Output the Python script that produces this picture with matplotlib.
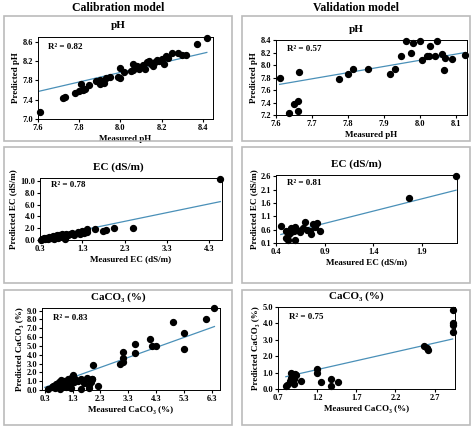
import numpy as np
import matplotlib
matplotlib.use("Agg")
import matplotlib.pyplot as plt
from matplotlib.patches import Rectangle

plt.rcParams['font.family'] = ['Liberation Serif', 'DejaVu Serif']
plt.rcParams['font.weight'] = 'bold'

ph_cal_x = [7.61,7.72,7.73,7.78,7.8,7.81,7.82,7.83,7.85,7.88,7.9,7.9,7.92,7.93,7.95,7.99,8.0,8.0,8.02,8.05,8.06,8.06,8.07,8.08,8.09,8.1,8.11,8.12,8.13,8.14,8.15,8.16,8.17,8.18,8.19,8.2,8.21,8.22,8.23,8.25,8.28,8.3,8.32,8.37,8.42]
ph_cal_y = [7.14,7.43,7.46,7.53,7.58,7.72,7.6,7.62,7.7,7.78,7.8,7.73,7.75,7.85,7.87,7.88,8.06,7.86,7.98,7.99,8.14,8.02,8.05,8.1,8.03,8.08,8.12,8.04,8.18,8.2,8.15,8.1,8.18,8.22,8.2,8.24,8.15,8.3,8.26,8.37,8.36,8.33,8.33,8.55,8.67]
ph_val_x = [7.61,7.635,7.65,7.66,7.66,7.665,7.775,7.80,7.815,7.855,7.915,7.93,7.948,7.96,7.975,7.98,8.0,8.005,8.02,8.025,8.027,8.04,8.048,8.062,8.065,8.07,8.088,8.125]
ph_val_y = [7.80,7.23,7.38,7.42,7.27,7.89,7.78,7.86,7.94,7.94,7.85,7.94,8.15,8.38,8.2,8.35,8.39,8.08,8.14,8.14,8.3,8.14,8.38,8.17,7.92,8.12,8.1,8.16]
ec_cal_x = [0.32,0.35,0.38,0.4,0.42,0.45,0.48,0.5,0.52,0.55,0.58,0.6,0.62,0.65,0.68,0.7,0.72,0.75,0.78,0.8,0.82,0.85,0.88,0.9,0.92,0.95,1.0,1.05,1.1,1.2,1.25,1.3,1.35,1.4,1.4,1.6,1.8,1.85,2.05,2.5,4.56]
ec_cal_y = [0.05,0.2,0.1,0.3,0.15,0.4,0.2,0.35,0.5,0.3,0.45,0.6,0.25,0.7,0.5,0.8,0.4,0.9,0.6,0.7,1.0,0.5,0.9,0.1,1.1,0.8,1.0,1.2,0.9,1.3,1.1,1.5,1.2,1.9,1.4,1.8,1.6,1.7,2.1,2.0,10.3]
ec_val_x = [0.45,0.5,0.5,0.52,0.53,0.55,0.58,0.6,0.6,0.62,0.65,0.68,0.7,0.72,0.75,0.76,0.78,0.8,0.82,0.85,0.55,0.52,1.77,2.25]
ec_val_y = [0.72,0.55,0.3,0.2,0.45,0.5,0.55,0.2,0.7,0.6,0.5,0.65,0.9,0.6,0.55,0.45,0.8,0.7,0.85,0.55,0.65,0.5,1.8,2.63]
ca_cal_x = [0.4,0.55,0.6,0.65,0.7,0.75,0.8,0.85,0.9,0.95,1.0,1.05,1.1,1.15,1.2,1.25,1.3,1.35,1.4,1.5,1.6,1.7,1.8,1.9,2.0,0.85,1.25,2.05,3.0,3.1,3.1,3.1,3.55,3.55,4.1,4.15,4.3,4.9,5.3,5.3,6.1,6.4,2.2,1.6,1.9,2.0,1.95]
ca_cal_y = [0.1,0.3,0.5,0.2,0.7,0.4,0.9,0.1,1.1,0.6,1.0,0.3,0.8,1.2,0.5,1.4,1.7,0.9,1.3,1.0,1.2,0.8,1.4,0.6,1.2,0.5,0.2,2.85,3.0,3.2,3.6,4.3,4.2,5.2,5.8,4.95,4.95,7.7,4.7,6.5,8.1,9.3,0.4,0.1,0.2,1.2,0.9]
ca_val_x = [0.8,0.82,0.85,0.86,0.87,0.88,0.9,0.9,0.92,0.93,1.0,1.2,1.2,1.25,1.38,1.38,1.47,2.57,2.6,2.62,2.93,2.93,2.93,2.93]
ca_val_y = [0.2,0.25,0.5,0.7,1.0,0.4,0.6,0.3,0.9,0.85,0.5,1.2,0.95,0.45,0.6,0.2,0.45,2.65,2.5,2.4,4.8,4.0,3.9,3.5]

# trendlines (start, end)
ph_cal_trend_x, ph_cal_trend_y = [7.6, 8.42], [7.57, 8.38]
ph_val_trend_x, ph_val_trend_y = [7.61, 8.125], [7.69, 8.2]
ec_cal_trend_x, ec_cal_trend_y = [0.3, 4.56], [0.2, 6.5]
ec_val_trend_x, ec_val_trend_y = [0.45, 2.25], [0.42, 2.08]
ca_cal_trend_x, ca_cal_trend_y = [0.3, 6.4], [0.3, 7.2]
ca_val_trend_x, ca_val_trend_y = [0.8, 2.93], [0.75, 3.05]

W, H = 474, 430
fig = plt.figure(figsize=(W/100, H/100), dpi=100)

def fr(x0, y0, x1, y1):
    return [x0/W, 1-y1/H, (x1-x0)/W, (y1-y0)/H]

for (x0, y0, x1, y1) in [(4,16,232,141),(242,16,470,141),(4,147,232,283),(242,147,470,283),(4,290,232,425),(242,290,470,425)]:
    fig.patches.append(Rectangle((x0/W, 1-y1/H), (x1-x0)/W, (y1-y0)/H, transform=fig.transFigure,
                                 fill=False, edgecolor='#bbbbbb', lw=1.2))
fig.text(118/W, 1-8/H, 'Calibration model', ha='center', va='center', fontsize=8.5, fontweight='bold')
fig.text(356/W, 1-8/H, 'Validation model', ha='center', va='center', fontsize=8.5, fontweight='bold')

panels = [
    (fr(38,37,213,119), ph_cal_x, ph_cal_y, ph_cal_trend_x, ph_cal_trend_y, 'pH', 'Measured pH', 'Predicted pH', (7.6,8.45), (7.0,8.7), np.arange(7.6,8.41,0.2), np.arange(7.0,8.61,0.4), 'R² = 0.82', 118),
    (fr(276,40,467,115), ph_val_x, ph_val_y, ph_val_trend_x, ph_val_trend_y, 'pH', 'Measured pH', 'Predicted pH', (7.6,8.13), (7.2,8.4), np.arange(7.6,8.11,0.1), np.arange(7.2,8.41,0.2), 'R² = 0.57', 356),
    (fr(40,178,222,240), ec_cal_x, ec_cal_y, ec_cal_trend_x, ec_cal_trend_y, 'EC (dS/m)', 'Measured EC (dS/m)', 'Predicted EC (dS/m)', (0.3,4.6), (0,10.5), np.arange(0.3,4.4,1.0), np.arange(0,10.1,2.0), 'R² = 0.78', 118),
    (fr(276,175,457,243), ec_val_x, ec_val_y, ec_val_trend_x, ec_val_trend_y, 'EC (dS/m)', 'Measured EC (dS/m)', 'Predicted EC (dS/m)', (0.4,2.26), (0.1,2.65), np.arange(0.4,2.0,0.5), np.arange(0.1,2.61,0.5), 'R² = 0.81', 356),
    (fr(42,308,220,390), ca_cal_x, ca_cal_y, ca_cal_trend_x, ca_cal_trend_y, 'CaCO₃ (%)', 'Measured CaCO₃ (%)', 'Predicted CaCO₃ (%)', (0.2,6.6), (0,9.3), np.arange(0.3,6.4,1.0), np.arange(0,9.1,1.0), 'R² = 0.83', 118),
    (fr(278,307,455,389), ca_val_x, ca_val_y, ca_val_trend_x, ca_val_trend_y, 'CaCO₃ (%)', 'Measured CaCO₃ (%)', 'Predicted CaCO₃ (%)', (0.7,2.96), (0,5.0), np.arange(0.7,2.8,0.5), np.arange(0,5.01,1.0), 'R² = 0.75', 356),
]
for rect, xs, ys, tx, ty, title, xl, yl, xlim, ylim, xt, yt, r2, cx in panels:
    ax = fig.add_axes(rect)
    ax.scatter(xs, ys, s=18, color='black', zorder=3, clip_on=False)
    ax.plot(tx, ty, color='#4a90b8', lw=0.9, zorder=2)
    ax.set_xlim(*xlim); ax.set_ylim(*ylim)
    ax.set_xticks(xt); ax.set_yticks(yt)
    ax.set_xticklabels(['%.1f' % v for v in xt]); ax.set_yticklabels(['%.1f' % v for v in yt])
    ax.tick_params(labelsize=6, length=2, pad=1.5)
    ax.set_xlabel(xl, fontsize=6.5, fontweight='bold', labelpad=2)
    ax.set_ylabel(yl, fontsize=6.5, fontweight='bold', labelpad=2)
    ax.text(0.06, 0.88, r2, transform=ax.transAxes, fontsize=6.5, fontweight='bold', va='center')
    for s in ax.spines.values():
        s.set_linewidth(0.7)
    bb = ax.get_position()
    fig.text(cx/W, bb.y1 + 11/H, title, ha='center', va='center', fontsize=8, fontweight='bold')

fig.savefig('out.png', dpi=100)
